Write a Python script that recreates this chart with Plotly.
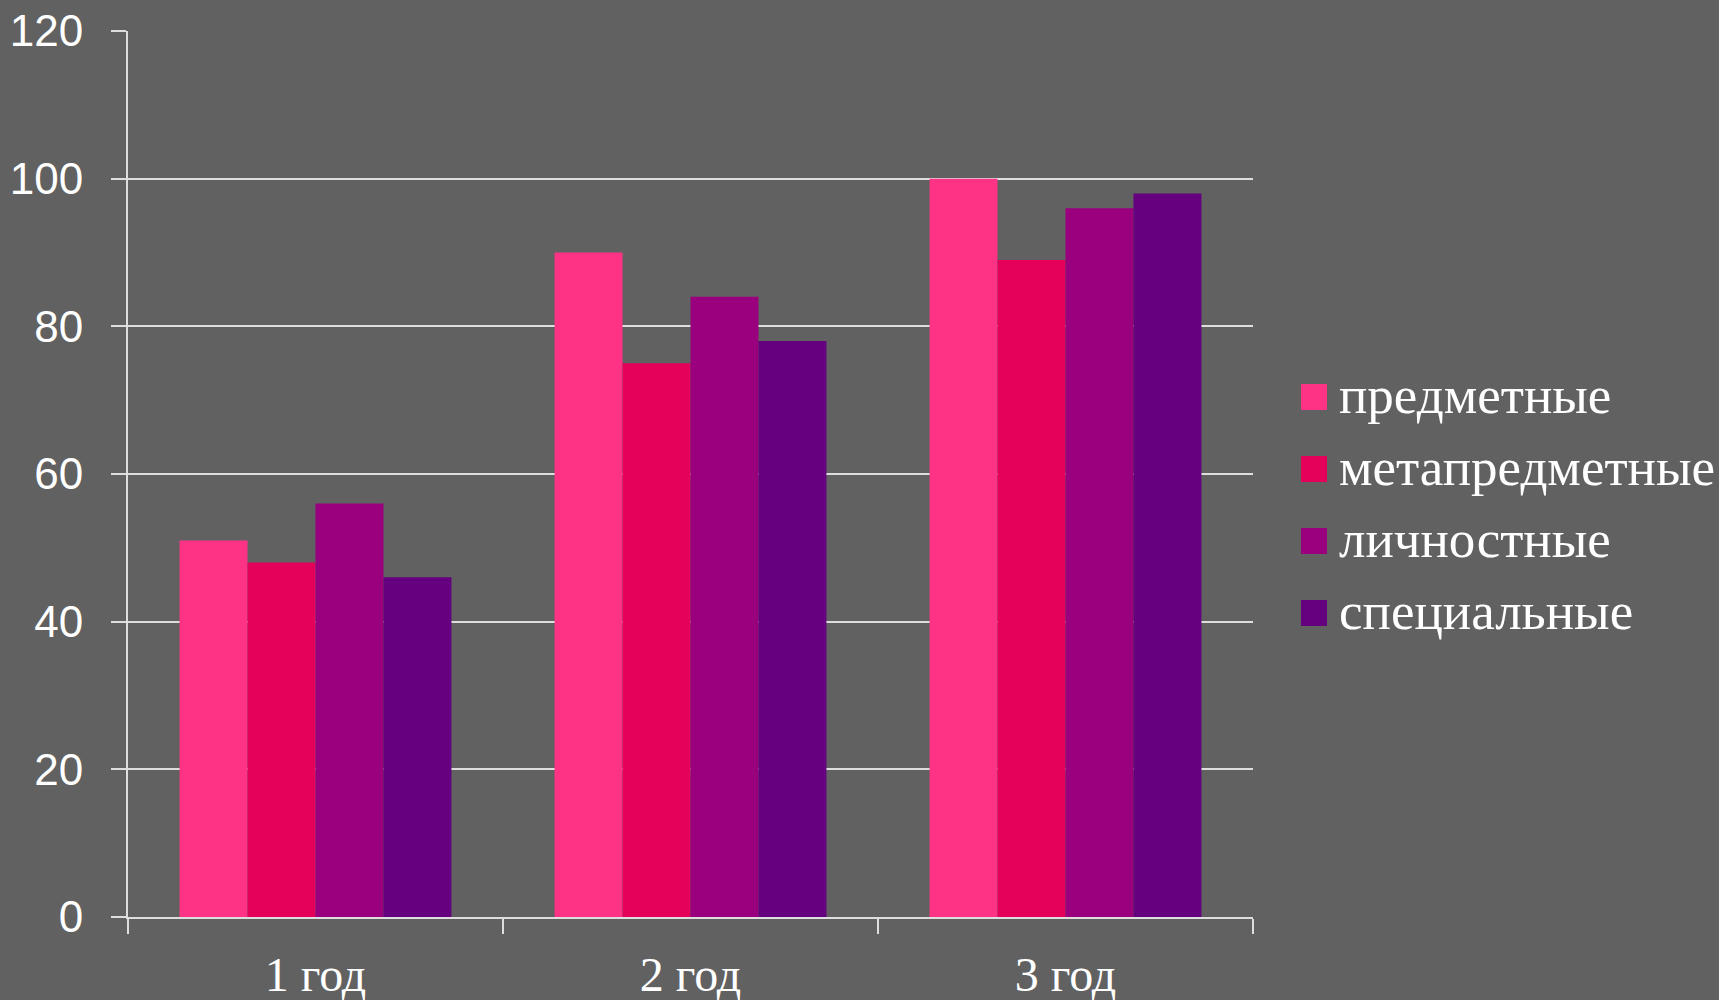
import plotly.graph_objects as go

categories = ["1 год", "2 год", "3 год"]
series_names = ["предметные", "метапредметные", "личностные", "специальные"]
predmetnye = [51, 90, 100]
metapredmetnye = [48, 75, 89]
lichnostnye = [56, 84, 96]
specialnye = [46, 78, 98]
series_values = [predmetnye, metapredmetnye, lichnostnye, specialnye]
colors = ["#FF3385", "#E5005A", "#9A007E", "#65007F"]
y_ticks = [0, 20, 40, 60, 80, 100, 120]

W, H = 1719, 1000
L, R, T, B = 128, 1253, 31, 917
BG = "#616161"
LINE = "#DEDEDE"

fig = go.Figure()
for name, vals, col in zip(series_names, series_values, colors):
    fig.add_trace(go.Bar(x=categories, y=vals, name=name,
                         marker=dict(color=col, line=dict(width=0)),
                         showlegend=False))

def px_x(x):
    return (x - L) / (R - L)

def px_y(y):
    return (B - y) / (B - T)

shapes = []
annotations = []
leg_centers = [397, 469, 541, 613]
for name, col, cy in zip(series_names, colors, leg_centers):
    shapes.append(dict(type="rect", xref="paper", yref="paper",
                       x0=px_x(1301), x1=px_x(1327),
                       y0=px_y(cy + 13), y1=px_y(cy - 13),
                       fillcolor=col, line=dict(width=0)))
    annotations.append(dict(xref="paper", yref="paper", x=px_x(1337), y=px_y(cy - 2),
                            xanchor="left", yanchor="middle", text=name, showarrow=False,
                            font=dict(family="Liberation Serif", size=53, color="white")))

fig.update_layout(
    width=W, height=H,
    margin=dict(l=L, r=W - R, t=T, b=H - B, pad=0, autoexpand=False),
    paper_bgcolor=BG, plot_bgcolor=BG,
    barmode="group", bargap=0.275, bargroupgap=0,
    shapes=shapes, annotations=annotations,
    showlegend=False,
)
fig.update_xaxes(
    type="category", showline=True, linecolor=LINE, linewidth=2, automargin=False,
    ticks="outside", ticklen=15, tickwidth=2, tickcolor=LINE, tickson="boundaries",
    showgrid=False,
    tickfont=dict(family="Liberation Serif", size=48, color="white"),
    ticklabelstandoff=14,
)
fig.update_yaxes(
    range=[0, 120], tickvals=y_ticks, showline=True, linecolor=LINE, linewidth=2,
    automargin=False,
    ticks="outside", ticklen=15, tickwidth=2, tickcolor=LINE,
    showgrid=True, gridcolor=LINE, gridwidth=2, zeroline=False,
    tickfont=dict(family="Liberation Sans", size=44, color="white"),
    ticklabelstandoff=19,
)

fig.write_html(
    "out.html",
    config={"displayModeBar": False},
    post_script="document.body.style.margin='0';document.body.style.overflow='hidden';"
                "document.body.style.background='" + BG + "';",
)
